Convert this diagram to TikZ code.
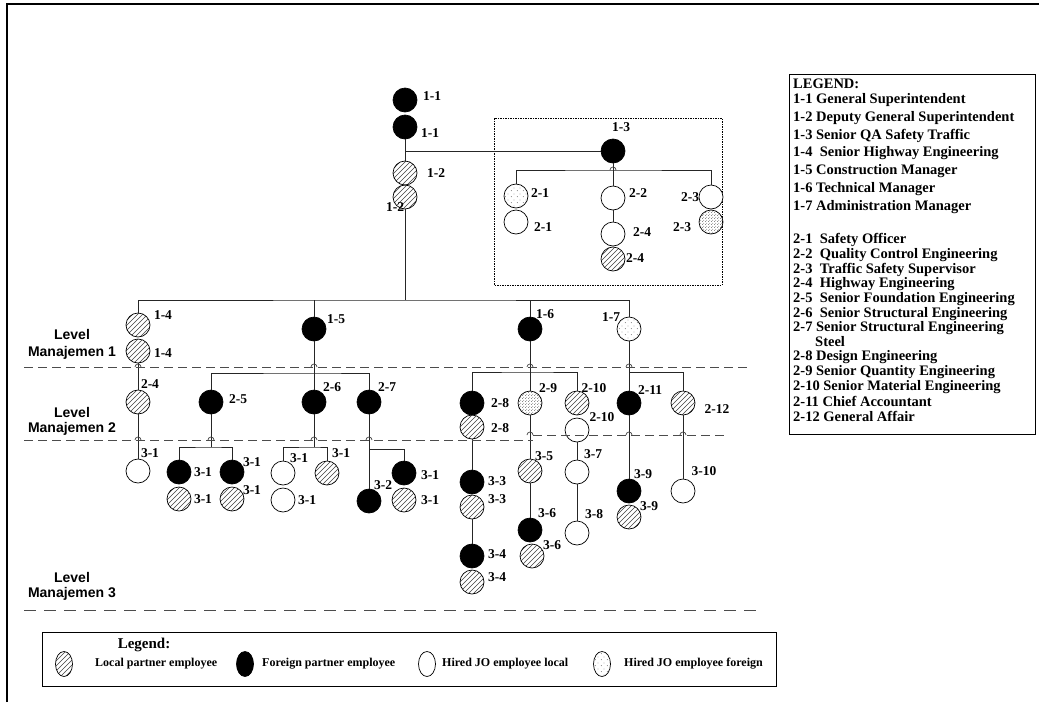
\documentclass[tikz,border=0pt]{standalone}
\usepackage{fontspec}
\setmainfont{Liberation Serif}
\setsansfont{Liberation Sans}
\usetikzlibrary{patterns,patterns.meta,shapes.geometric}

\tikzdeclarepattern{name=hatchx, type=uncolored,
  bounding box={(-1pt,-1pt) and (6pt,6pt)}, tile size={(5pt,5pt)},
  code={\draw[line width=0.55pt] (0pt,0pt) -- (5.1pt,5.1pt);}}
\tikzdeclarepattern{name=sparsedots, type=uncolored,
  bounding box={(0pt,0pt) and (6pt,6pt)}, tile size={(6pt,6pt)},
  code={\fill (1.5pt,1.5pt) circle (0.5pt); \fill (4.5pt,4.5pt) circle (0.5pt);}}
\tikzdeclarepattern{name=densedots, type=uncolored,
  bounding box={(0pt,0pt) and (3pt,3pt)}, tile size={(3pt,3pt)},
  code={\fill (0.75pt,0.75pt) circle (0.5pt); \fill (2.25pt,2.25pt) circle (0.5pt);}}

\tikzset{
  person/.style={circle, draw, line width=0.7pt, minimum size=24pt, inner sep=0pt},
  lp/.style={person, pattern=hatchx, pattern color=black!75},
  fp/.style={person, fill=black},
  hl/.style={person, fill=white},
  hf/.style={person, pattern=sparsedots, pattern color=black!70},
  hfd/.style={person, pattern=densedots, pattern color=black!80},
  lab/.style={font=\bfseries\fontsize{13.5pt}{14pt}\selectfont, inner sep=0pt},
  leg/.style={font=\bfseries\fontsize{14.5pt}{15pt}\selectfont, inner sep=0pt, anchor=west},
  lvl/.style={font=\sffamily\bfseries\fontsize{14pt}{16pt}\selectfont, inner sep=0pt},
  conn/.style={line width=0.8pt, black!85},
  hop/.style={line width=0.7pt, black!75},
  level line/.style={line width=1pt, black!70, dash pattern=on 9pt off 5pt},
  level line long/.style={line width=1pt, black!70, dash pattern=on 12pt off 8pt},
  bl/.style={font=\bfseries\fontsize{12pt}{13pt}\selectfont, inner sep=0pt, anchor=west},
  blsym/.style={ellipse, draw, line width=0.7pt, minimum width=17pt, minimum height=25pt, inner sep=0pt}
}

\begin{document}
\begin{tikzpicture}[x=1pt, y=-1pt]
\useasboundingbox (0,0) rectangle (1039,702);
% frame
\draw[line width=1.5pt] (7,702) -- (7,4) -- (1039,4);

% dotted group box
\draw[line width=0.7pt, dash pattern=on 1.5pt off 1pt] (494,118) rectangle (722,285);

% ---- circles ----
\node[fp] (c11a) at (405,100) {};
\node[fp] (c11b) at (405,127) {};
\node[fp] (c13) at (613,151) {};
\node[lp] (c12a) at (405,173) {};
\node[lp] (c12b) at (405,197) {};
\node[hf] (c21a) at (516,196) {};
\node[hl] (c21b) at (516,222) {};
\node[hl] (c22) at (613,198) {};
\node[hl] (c24a) at (613,234) {};
\node[lp] (c24b) at (613,259) {};
\node[hl] (c23a) at (711,197) {};
\node[hfd] (c23b) at (711,222) {};

\node[lp] (c14a) at (138,325) {};
\node[lp] (c14b) at (138,351) {};
\node[fp] (c15) at (314,329) {};
\node[fp] (c16) at (530,329) {};
\node[hf] (c17) at (629,329) {};

\node[lp] (c24L) at (138,402) {};
\node[fp] (c25) at (211,402) {};
\node[fp] (c26) at (314,402) {};
\node[fp] (c27) at (369,402) {};
\node[fp] (c28a) at (472,403) {};
\node[lp] (c28b) at (472,427) {};
\node[hfd] (c29) at (530,403) {};
\node[lp] (c210a) at (577,403) {};
\node[hl] (c210b) at (577,430) {};
\node[fp] (c211) at (629,403) {};
\node[lp] (c212) at (683,403) {};

\node[hl] (c31a) at (138,471) {};
\node[fp] (c31b) at (179,472) {};
\node[fp] (c31c) at (232,472) {};
\node[lp] (c31d) at (179,499) {};
\node[lp] (c31e) at (232,499) {};
\node[hl] (c31f) at (283,473) {};
\node[hl] (c31g) at (283,500) {};
\node[lp] (c31h) at (327,473) {};
\node[fp] (c32) at (369,501) {};
\node[fp] (c31i) at (404,473) {};
\node[lp] (c31j) at (404,500) {};
\node[fp] (c33a) at (472,482) {};
\node[lp] (c33b) at (472,507) {};
\node[fp] (c34a) at (472,556) {};
\node[lp] (c34b) at (472,582) {};
\node[lp] (c35) at (530,471) {};
\node[fp] (c36a) at (530,530) {};
\node[lp] (c36b) at (532,556) {};
\node[hl] (c37) at (577,472) {};
\node[hl] (c38) at (577,533) {};
\node[fp] (c39a) at (629,491) {};
\node[lp] (c39b) at (629,517) {};
\node[hl] (c310) at (683,491) {};

% ---- bus coordinates ----
\coordinate (bus) at (405,300);
\coordinate (b13) at (613,170);
\coordinate (b15) at (314,373);
\coordinate (b16) at (530,372);
\coordinate (b17) at (629,372);
\coordinate (b25) at (211,447);
\coordinate (b26) at (314,447);
\coordinate (b27) at (369,449);
\coordinate (b11) at (405,151);

% ---- connectors ----
\begin{scope}[conn]
\draw (c11b) -- (c12a);
\draw (b11) -- (c13);
\draw (c12b) -- (bus);
\draw (c14a.north) |- (bus) -| (c17.north);
\draw (c15.north) -- (c15 |- bus);
\draw (c16.north) -- (c16 |- bus);
\draw (c13) -- (c22);
\draw (c21a.north) |- (b13) -| (c23a.north);
\draw (c22) -- (c24a);
\draw (c14b) -- (c24L);
\draw (c24L) -- (c31a);
\draw (c15) -- (c26);
\draw (c25.north) |- (b15) -| (c27.north);
\draw (c25) -- (b25);
\draw (c31b.north) |- (b25) -| (c31c.north);
\draw (c26) -- (b26);
\draw (c31f.north) |- (b26) -| (c31h.north);
\draw (c27) -- (c32);
\draw (b27) -| (c31i.north);
\draw (c16) -- (c29);
\draw (c28a.north) |- (b16) -| (c210a.north);
\draw (c17) -- (c211);
\draw (b17) -| (c212.north);
\draw (c28b) -- (c33a);
\draw (c33b) -- (c34a);
\draw (c29) -- (c35);
\draw (c35) -- (c36a);
\draw (c210b) -- (c37);
\draw (c37) -- (c38);
\draw (c211) -- (c39a);
\draw (c212) -- (c310);
\end{scope}

% ---- level lines ----
\coordinate (d1a) at (24,367); \coordinate (d1b) at (750,367);
\coordinate (d2a) at (24,440); \coordinate (d2b) at (533,440);
\coordinate (d2c) at (533,435); \coordinate (d2d) at (725,435);
\coordinate (d3a) at (24,610); \coordinate (d3b) at (757,610);
\draw[level line] (d1a) -- (d1b);
\draw[level line] (d2a) -- (d2b);
\draw[level line] (d2c) -- (d2d);
\draw[level line long] (d3a) -- (d3b);

% small line jumps where lines cross
\foreach \hx/\hy in {138/367,314/367,530/367,629/367,138/440,211/440,314/440,369/440,530/435,629/435,683/435,613/170}
  \draw[hop] (\hx-3,\hy) arc[start angle=180, end angle=0, radius=3pt];

\node[lvl] (lv1a) at (72,334) {Level};
\node[lvl] (lv1b) at (72,353) {Manajemen 1};
\node[lvl] (lv2a) at (72,412) {Level};
\node[lvl] (lv2b) at (72,429) {Manajemen 2};
\node[lvl] (lv3a) at (72,577) {Level};
\node[lvl] (lv3b) at (72,594) {Manajemen 3};

% ---- labels ----
\node[lab] (t11a) at (432,96) {1-1};
\node[lab] (t11b) at (430,133) {1-1};
\node[lab] (t13) at (621,127) {1-3};
\node[lab] (t12a) at (436,173) {1-2};
\node[lab] (t12b) at (395,207) {1-2};
\node[lab] (t21a) at (540,193) {2-1};
\node[lab] (t21b) at (543,227) {2-1};
\node[lab] (t22) at (638,193) {2-2};
\node[lab] (t24a) at (642,232) {2-4};
\node[lab] (t24b) at (635,258) {2-4};
\node[lab] (t23a) at (690,197) {2-3};
\node[lab] (t23b) at (682,227) {2-3};
\node[lab] (t14a) at (163,315) {1-4};
\node[lab] (t14b) at (163,353) {1-4};
\node[lab] (t24L) at (150,384) {2-4};
\node[lab] (t15) at (336,319) {1-5};
\node[lab] (t25) at (238,399) {2-5};
\node[lab] (t26) at (332,387) {2-6};
\node[lab] (t27) at (387,387) {2-7};
\node[lab] (t16) at (545,314) {1-6};
\node[lab] (t17) at (611,317) {1-7};
\node[lab] (t28a) at (500,403) {2-8};
\node[lab] (t28b) at (500,428) {2-8};
\node[lab] (t29) at (548,388) {2-9};
\node[lab] (t210a) at (594,388) {2-10};
\node[lab] (t210b) at (602,417) {2-10};
\node[lab] (t211) at (650,390) {2-11};
\node[lab] (t212) at (717,409) {2-12};
\node[lab] (t31a) at (150,453) {3-1};
\node[lab] (t31b) at (203,472) {3-1};
\node[lab] (t31c) at (252,462) {3-1};
\node[lab] (t31d) at (203,499) {3-1};
\node[lab] (t31e) at (252,490) {3-1};
\node[lab] (t31f) at (299,458) {3-1};
\node[lab] (t31g) at (307,500) {3-1};
\node[lab] (t31h) at (341,453) {3-1};
\node[lab] (t32) at (383,485) {3-2};
\node[lab] (t31i) at (430,475) {3-1};
\node[lab] (t31j) at (430,500) {3-1};
\node[lab] (t33a) at (497,481) {3-3};
\node[lab] (t33b) at (497,499) {3-3};
\node[lab] (t34a) at (497,554) {3-4};
\node[lab] (t34b) at (497,577) {3-4};
\node[lab] (t35) at (544,456) {3-5};
\node[lab] (t36a) at (547,513) {3-6};
\node[lab] (t36b) at (552,545) {3-6};
\node[lab] (t37) at (593,454) {3-7};
\node[lab] (t38) at (594,514) {3-8};
\node[lab] (t39a) at (643,474) {3-9};
\node[lab] (t39b) at (649,506) {3-9};
\node[lab] (t310) at (704,471) {3-10};

% ---- right legend ----
\draw[line width=0.8pt] (789,74) rectangle (1035,434);
\node[leg] (g0) at (793,84) {LEGEND:};
\node[leg] (g11) at (793,100) {1-1 General Superintendent};
\node[leg] (g12) at (793,118) {1-2 Deputy General Superintendent};
\node[leg] (g13) at (793,136) {1-3 Senior QA Safety Traffic};
\node[leg] (g14) at (793,153) {1-4\ \ Senior Highway Engineering};
\node[leg] (g15) at (793,171) {1-5 Construction Manager};
\node[leg] (g16) at (793,189) {1-6 Technical Manager};
\node[leg] (g17) at (793,207) {1-7 Administration Manager};
\node[leg] (g21) at (793,240) {2-1\ \ Safety Officer};
\node[leg] (g22) at (793,255) {2-2\ \ Quality Control Engineering};
\node[leg] (g23) at (793,270) {2-3\ \ Traffic Safety Supervisor};
\node[leg] (g24) at (793,284) {2-4\ \ Highway Engineering};
\node[leg] (g25) at (793,299) {2-5\ \ Senior Foundation Engineering};
\node[leg] (g26) at (793,314) {2-6\ \ Senior Structural Engineering};
\node[leg] (g27) at (793,328) {2-7 Senior Structural Engineering};
\node[leg] (g27b) at (815,342) {Steel};
\node[leg] (g28) at (793,357) {2-8 Design Engineering};
\node[leg] (g29) at (793,372) {2-9 Senior Quantity Engineering};
\node[leg] (g210) at (793,387) {2-10 Senior Material Engineering};
\node[leg] (g211) at (793,401) {2-11 Chief Accountant};
\node[leg] (g212) at (793,416) {2-12 General Affair};

% ---- bottom legend ----
\draw[line width=0.8pt] (42,632) rectangle (776,686);
\node[font=\bfseries\fontsize{15pt}{16pt}\selectfont, inner sep=0pt] (bleg) at (144,645) {Legend:};
\node[blsym, pattern=hatchx, pattern color=black!75] (s1) at (64,664) {};
\node[bl] (s1t) at (95,664) {Local partner employee};
\node[blsym, fill=black] (s2) at (245,664) {};
\node[bl] (s2t) at (262,664) {Foreign partner employee};
\node[blsym, fill=white] (s3) at (427,664) {};
\node[bl] (s3t) at (442,664) {Hired JO employee local};
\node[blsym, pattern=sparsedots, pattern color=black!70] (s4) at (602,664) {};
\node[bl] (s4t) at (624,664) {Hired JO employee foreign};
\end{tikzpicture}
\end{document}
